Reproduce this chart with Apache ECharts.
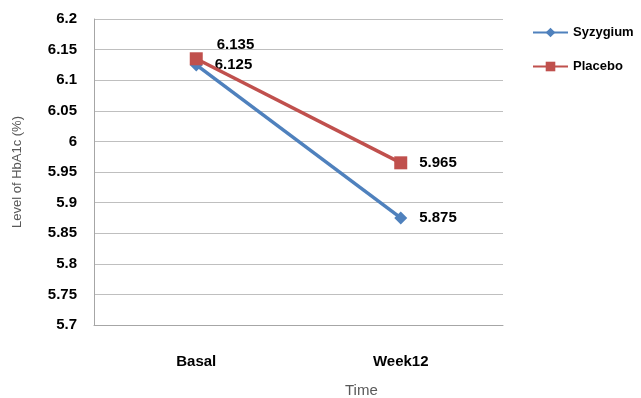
<!DOCTYPE html>
<html>
<head>
<meta charset="utf-8">
<script src="https://cdn.jsdelivr.net/npm/echarts@6/dist/echarts.min.js"></script>
<style>
  html, body { margin: 0; padding: 0; background: #fff; }
  #chart { width: 641px; height: 398px; }
</style>
</head>
<body>
<div id="chart"></div>
<script>
// Time points on the x axis
const categories = ['Basal', 'Week12'];
// Mean HbA1c (%) for each group
const syzygiumValues = [6.125, 5.875];
const placeboValues = [6.135, 5.965];
// Y axis range and step
const yMin = 5.7;
const yMax = 6.2;
const yStep = 0.05;

const FONT = '"Liberation Sans", Arial, sans-serif';
const chart = echarts.init(document.getElementById('chart'));

const valueLabel = (extra) => Object.assign({
  show: true,
  position: 'right',
  distance: 12,
  color: '#000',
  fontFamily: FONT,
  fontWeight: 'bold',
  fontSize: 15,
  formatter: (p) => String(p.value)
}, extra || {});

chart.setOption({
  animation: false,
  grid: { left: 94, right: 138, top: 19, bottom: 73 },
  legend: {
    orient: 'vertical',
    left: 532,
    top: 26,
    padding: 0,
    itemWidth: 35,
    itemHeight: 12,
    itemGap: 21,
    textStyle: { fontFamily: FONT, fontWeight: 'bold', fontSize: 13, color: '#000' },
    data: ['Syzygium', 'Placebo']
  },
  xAxis: {
    type: 'category',
    data: categories,
    boundaryGap: true,
    axisLine: { lineStyle: { color: '#a6a6a6', width: 1 } },
    axisTick: { show: false },
    axisLabel: { margin: 29, color: '#000', fontFamily: FONT, fontWeight: 'bold', fontSize: 15 }
  },
  yAxis: {
    type: 'value',
    min: yMin,
    max: yMax,
    interval: yStep,
    name: 'Level of HbA1c (%)',
    nameLocation: 'middle',
    nameGap: 70,
    nameTextStyle: { color: '#595959', fontFamily: FONT, fontSize: 13 },
    axisLine: { show: true, lineStyle: { color: '#a6a6a6', width: 1 } },
    axisTick: { show: false },
    splitLine: { lineStyle: { color: '#bfbfbf', width: 1 } },
    axisLabel: {
      margin: 17,
      color: '#000',
      fontFamily: FONT,
      fontWeight: 'bold',
      fontSize: 15,
      formatter: (v) => String(Math.round(v * 1000) / 1000)
    }
  },
  graphic: [{
    type: 'text',
    left: 345,
    top: 383,
    style: { text: 'Time', fill: '#595959', font: '15px ' + FONT }
  }],
  series: [
    {
      name: 'Syzygium',
      type: 'line',
      data: syzygiumValues,
      symbol: 'diamond',
      symbolSize: 13,
      itemStyle: { color: '#4F81BD' },
      lineStyle: { color: '#4F81BD', width: 3.5 },
      label: valueLabel(),
      z: 3
    },
    {
      name: 'Placebo',
      type: 'line',
      data: placeboValues,
      symbol: 'rect',
      symbolSize: 13,
      itemStyle: { color: '#C0504D' },
      lineStyle: { color: '#C0504D', width: 3.5 },
      label: valueLabel(),
      labelLayout: (params) => params.dataIndex === 0 ? { dy: -14, dx: 2 } : {},
      z: 4
    }
  ]
});
</script>
</body>
</html>
